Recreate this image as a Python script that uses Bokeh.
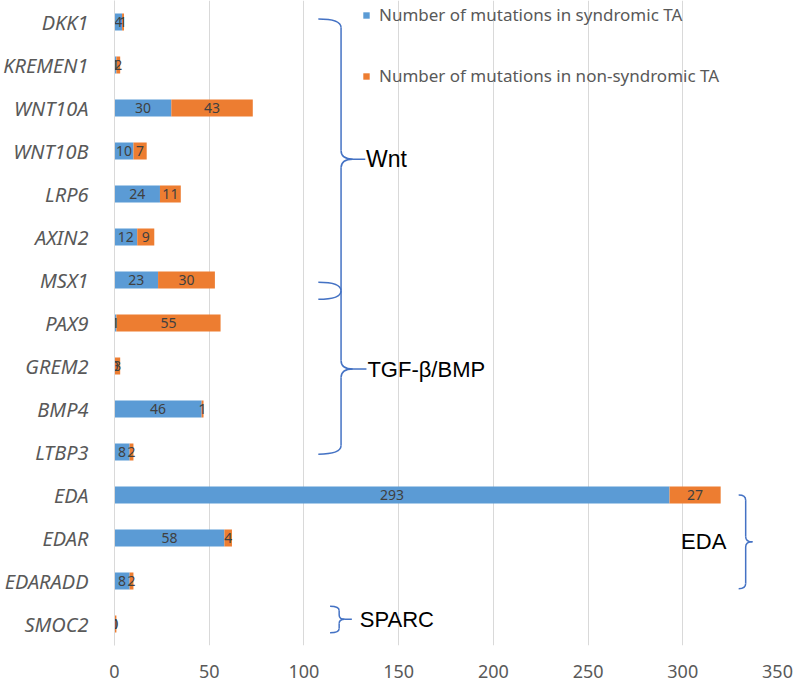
from bokeh.plotting import figure
from bokeh.models import FactorRange, Legend, LegendItem, Range1d, FixedTicker
from bokeh.core.properties import value
from bokeh.embed import file_html
from bokeh.resources import INLINE

genes = ["DKK1", "KREMEN1", "WNT10A", "WNT10B", "LRP6", "AXIN2", "MSX1", "PAX9",
         "GREM2", "BMP4", "LTBP3", "EDA", "EDAR", "EDARADD", "SMOC2"]
syndromic = [4, 1, 30, 10, 24, 12, 23, 1, 0, 46, 8, 293, 58, 8, 0]
non_syndromic = [1, 2, 43, 7, 11, 9, 30, 55, 3, 1, 2, 27, 4, 2, 1]
x_ticks = [0, 50, 100, 150, 200, 250, 300, 350]
series_names = ["Number of mutations in syndromic TA",
                "Number of mutations in non-syndromic TA"]

BLUE = "#5B9BD5"
ORANGE = "#ED7D31"
BRACE = "#4472C4"
FONT = "Noto Sans"

FRAME_H = 645

p = figure(frame_width=663, frame_height=FRAME_H, output_backend="svg", toolbar_location=None,
           y_range=FactorRange(factors=genes[::-1], range_padding=0),
           x_range=Range1d(0, 350))
p.min_border_left = 104
p.min_border_right = 17
p.min_border_top = 0
p.min_border_bottom = 46
p.outline_line_color = None

totals = [s + n for s, n in zip(syndromic, non_syndromic)]
r1 = p.hbar(y=genes, left=0, right=syndromic, height=0.39, color=BLUE, line_color=None)
r2 = p.hbar(y=genes, left=syndromic, right=totals, height=0.39, color=ORANGE, line_color=None)

# data labels
p.text(x=[s / 2 for s in syndromic], y=genes, text=[str(s) for s in syndromic],
       text_align="center", text_baseline="middle", text_font_size="14px",
       text_color="#404040", text_font=value(FONT))
p.text(x=[s + n / 2 for s, n in zip(syndromic, non_syndromic)], y=genes,
       text=[str(n) for n in non_syndromic],
       text_align="center", text_baseline="middle", text_font_size="14px",
       text_color="#404040", text_font=value(FONT))

# axes
p.xaxis.ticker = FixedTicker(ticks=x_ticks)
p.xaxis.axis_line_color = None
p.xaxis.major_tick_line_color = None
p.xaxis.minor_tick_line_color = None
p.xaxis.major_tick_out = 0
p.xaxis.major_label_text_font_size = "18px"
p.xaxis.major_label_text_color = "#595959"
p.xaxis.major_label_text_font = FONT
p.xaxis.major_label_standoff = 19

p.yaxis.axis_line_color = "#D9D9D9"
p.yaxis.major_tick_line_color = None
p.yaxis.minor_tick_line_color = None
p.yaxis.major_label_text_font_size = "20px"
p.yaxis.major_label_text_font_style = "italic"
p.yaxis.major_label_text_color = "#595959"
p.yaxis.major_label_text_font = FONT
p.yaxis.major_label_standoff = 20

p.xgrid.grid_line_color = "#D9D9D9"
p.ygrid.grid_line_color = None

# legend
legend = Legend(items=[LegendItem(label=series_names[0], renderers=[r1]),
                       LegendItem(label=series_names[1], renderers=[r2])],
                location=(248, FRAME_H - 9 - 78), orientation="vertical",
                glyph_width=8, glyph_height=8, label_height=20, spacing=38,
                padding=0, margin=0, label_standoff=9,
                label_text_font_size="17px", label_text_color="#595959",
                label_text_font=FONT, background_fill_alpha=0,
                border_line_color=None)
p.add_layout(legend)

# group braces (annotation layout)
def brace(ytop, ybot, ymid, xarm, xv, xtip, r, xline=None):
    kw = dict(line_color=BRACE, line_width=1.5)
    p.quadratic(x0=[xarm], y0=[ytop], cx=[xv], cy=[ytop], x1=[xv], y1=[ytop - r], **kw)
    p.segment(x0=[xv], y0=[ytop - r], x1=[xv], y1=[ymid + r], **kw)
    p.quadratic(x0=[xv], y0=[ymid + r], cx=[xv], cy=[ymid], x1=[xtip], y1=[ymid], **kw)
    p.quadratic(x0=[xv], y0=[ymid - r], cx=[xv], cy=[ymid], x1=[xtip], y1=[ymid], **kw)
    p.segment(x0=[xv], y0=[ymid - r], x1=[xv], y1=[ybot + r], **kw)
    p.quadratic(x0=[xv], y0=[ybot + r], cx=[xv], cy=[ybot], x1=[xarm], y1=[ybot], **kw)
    if xline is not None:
        p.segment(x0=[xtip], y0=[ymid], x1=[xline], y1=[ymid], **kw)

brace(14.57, 8.05, 11.31, 107.6, 119.6, 125.8, 0.2, 132.4)
brace(8.45, 4.45, 6.43, 107.6, 119.6, 125.8, 0.2, 133.0)
brace(3.5, 1.32, 2.41, 329.5, 333.2, 336.8, 0.12)
brace(0.91, 0.295, 0.61, 113.8, 118.6, 121.5, 0.1, 125.3)

group_names = ["Wnt", "TGF-β/BMP", "EDA", "SPARC"]
p.text(x=[132.8], y=[11.31], text=[group_names[0]], text_align="left",
       text_baseline="middle", text_font_size="23px", text_color="black",
       text_font=value("Liberation Sans"))
p.text(x=[133.5], y=[6.43], text=[group_names[1]], text_align="left",
       text_baseline="middle", text_font_size="22px", text_color="black",
       text_font=value("Liberation Sans"))
p.text(x=[323.0], y=[2.41], text=[group_names[2]], text_align="right",
       text_baseline="middle", text_font_size="22px", text_color="black",
       text_font=value("Liberation Sans"))
p.text(x=[129.5], y=[0.61], text=[group_names[3]], text_align="left",
       text_baseline="middle", text_font_size="22px", text_color="black",
       text_font=value("Liberation Sans"))

open("out.html", "w").write(file_html(p, INLINE))
